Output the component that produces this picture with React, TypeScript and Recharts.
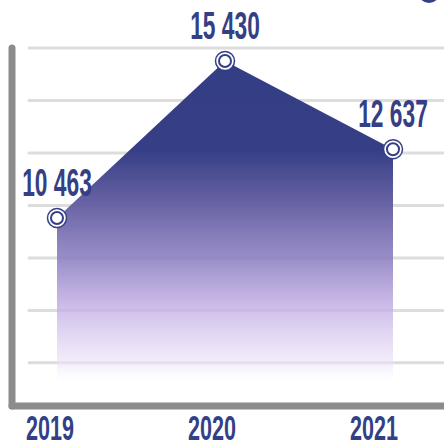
import React from 'react';
import { AreaChart, Area, XAxis, YAxis, CartesianGrid, LabelList } from 'recharts';

const years = ['2019', '2020', '2021'];
const totals = [10463, 15430, 12637];
const gridTicks = [5880, 7540, 9200, 10860, 12520, 14180, 15840];
const yDomain = [4515, 15840];

const NAVY = '#353f85';
const AXIS_GRAY = '#8c8c8c';

const chartData = years.map((year, i) => ({ year, total: totals[i] }));

const fmt = (v: number) => String(v).replace(/\B(?=(\d{3})+(?!\d))/g, ' ');

function CondText({ x, y, text, size = 38 }: { x: number; y: number; text: string; size?: number }) {
  return (
    <g transform={`translate(${x},${y}) scale(0.6,1)`}>
      <text
        x={0}
        y={0}
        textAnchor="middle"
        fontFamily="'Liberation Sans', Arial, sans-serif"
        fontWeight={700}
        fontSize={size}
        fill={NAVY}
      >
        {text}
      </text>
    </g>
  );
}

const YearTick = (props: any) => {
  const { x, y, payload } = props;
  return <CondText x={x} y={y + 34} text={payload.value} size={36} />;
};

const NoTick = () => <g />;

const ValueLabel = (props: any) => {
  const { x, y, value } = props;
  return <CondText x={x} y={y - 22} text={fmt(value)} />;
};

const RingDot = (props: any) => {
  const { cx, cy, index } = props;
  return (
    <g key={`dot-${index}`}>
      <circle cx={cx} cy={cy} r={9.5} fill="#fff" stroke={NAVY} strokeWidth={1.5} />
      <circle cx={cx} cy={cy} r={6} fill="#fff" stroke={NAVY} strokeWidth={2} />
    </g>
  );
};

export default function App() {
  return (
    <div style={{ position: 'absolute', left: 0, top: 0, width: 444, height: 448, overflow: 'hidden', background: '#fff' }}>
      <div
        style={{
          position: 'absolute',
          left: 418,
          top: -19,
          width: 22,
          height: 22,
          borderRadius: '50%',
          background: NAVY,
        }}
      />
      <AreaChart width={444} height={448} data={chartData} margin={{ top: 48, right: 1, bottom: 0, left: 0 }}>
        <defs>
          <linearGradient id="fadeFill" x1="0" y1="0" x2="0" y2="1">
            <stop offset="0%" stopColor="#343e84" stopOpacity={1} />
            <stop offset="26%" stopColor="#363f86" stopOpacity={1} />
            <stop offset="40%" stopColor="#5c579c" stopOpacity={0.95} />
            <stop offset="57%" stopColor="#8b7ec0" stopOpacity={0.88} />
            <stop offset="69%" stopColor="#b9a5de" stopOpacity={0.82} />
            <stop offset="79%" stopColor="#d6c6ee" stopOpacity={0.72} />
            <stop offset="88%" stopColor="#ece2f8" stopOpacity={0.6} />
            <stop offset="94%" stopColor="#ffffff" stopOpacity={0} />
          </linearGradient>
        </defs>
        <CartesianGrid
          xAxisId="pts"
          vertical={false}
          x={29}
          width={414}
          stroke="#dddddd"
          strokeWidth={3}
          strokeLinecap="round"
        />
        <XAxis xAxisId="pts" dataKey="year" hide padding={{ left: 45, right: 50 }} />
        <XAxis
          xAxisId="lbl"
          dataKey="year"
          height={42}
          padding={{ left: 38, right: 69 }}
          tickLine={false}
          tickSize={0}
          tickMargin={0}
          tick={YearTick}
          axisLine={{ stroke: AXIS_GRAY, strokeWidth: 7, strokeLinecap: 'round' }}
        />
        <YAxis
          width={12}
          domain={yDomain}
          ticks={gridTicks}
          interval={0}
          tick={NoTick}
          tickLine={false}
          axisLine={{ stroke: AXIS_GRAY, strokeWidth: 7, strokeLinecap: 'round' }}
        />
        <Area
          xAxisId="pts"
          type="linear"
          dataKey="total"
          stroke="none"
          fill="url(#fadeFill)"
          fillOpacity={1}
          dot={RingDot}
          activeDot={false}
          isAnimationActive={false}
        >
          <LabelList dataKey="total" content={ValueLabel} />
        </Area>
      </AreaChart>
    </div>
  );
}
